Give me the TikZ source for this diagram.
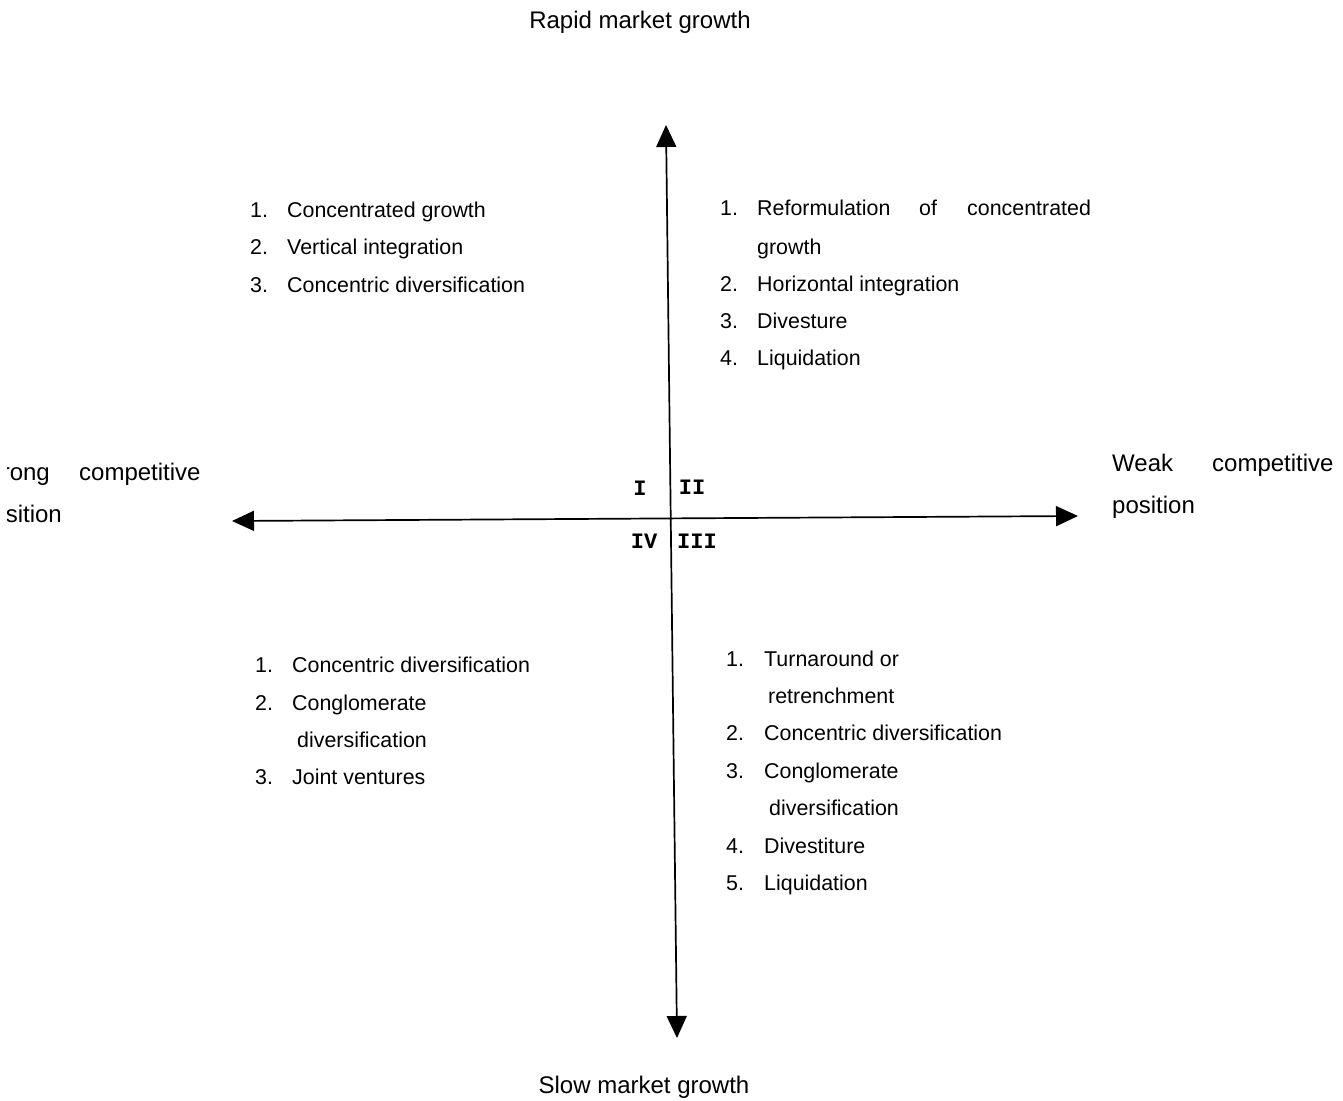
\documentclass[tikz,border=0pt]{standalone}
\usepackage{fontspec}
\setmainfont{Liberation Sans}
\newfontfamily\quadfont{Liberation Mono}
\usetikzlibrary{arrows.meta}
\tikzset{
  entry/.style={anchor=west,inner sep=0pt,text height=19pt,text depth=4pt},
  axislabel/.style={inner sep=0pt,text height=21pt,text depth=5pt,font=\fontsize{24}{28}\selectfont},
  quadlabel/.style={inner sep=0pt,font=\quadfont\bfseries\fontsize{22}{26}\selectfont},
  axis/.style={line width=1.7pt,{Triangle[length=22pt,width=20pt]}-{Triangle[length=22pt,width=20pt]}}
}
\begin{document}
\begin{tikzpicture}[x=1pt,y=-1pt,font=\fontsize{21.4}{25}\selectfont]
  \useasboundingbox (0,0) rectangle (1343,1100);
  \clip (7,0) rectangle (1343,1100);
  % axes
  \coordinate (top) at (666,125);
  \coordinate (bottom) at (677,1038);
  \coordinate (west) at (232,521);
  \coordinate (east) at (1078,516);
  \draw[axis] (bottom) -- (top);
  \draw[axis] (west) -- (east);
  % axis labels
  \node[axislabel] (rapid) at (640,20) {Rapid market growth};
  \node[axislabel] (slow) at (644,1085) {Slow market growth};
  \node[axislabel,anchor=east] (strong) at (50,472) {Strong};
  \node[axislabel,anchor=west] (strongc) at (79,472) {competitive};
  \node[axislabel,anchor=east] (strongp) at (62,514) {position};
  \node[axislabel,anchor=west] (weak) at (1112,463) {Weak};
  \node[axislabel,anchor=west] (weakc) at (1212,463) {competitive};
  \node[axislabel,anchor=west] (weakp) at (1112,505) {position};
  % quadrant numbers
  \node[quadlabel] (qI) at (640,488) {I};
  \node[quadlabel] (qII) at (692,487) {II};
  \node[quadlabel] (qIII) at (697,541) {III};
  \node[quadlabel] (qIV) at (644,541) {IV};
  % quadrant I
  \foreach \y/\num/\txt [count=\i] in {210/1./Concentrated growth,
      247/2./Vertical integration, 285/3./Concentric diversification}{
    \node[entry] (I-num-\i) at (250,\y) {\num};
    \node[entry] (I-txt-\i) at (287,\y) {\txt};
  }
  % quadrant II
  \node[entry] (II-num-1) at (720,208) {1.};
  \node[entry] (II-txt-1a) at (757,208) {Reformulation};
  \node[entry] (II-txt-1b) at (919,208) {of};
  \node[entry] (II-txt-1c) at (967,208) {concentrated};
  \node[entry] (II-txt-1d) at (757,247) {growth};
  \foreach \y/\num/\txt [count=\i from 2] in {284/2./Horizontal integration,
      321/3./Divesture, 358/4./Liquidation}{
    \node[entry] (II-num-\i) at (720,\y) {\num};
    \node[entry] (II-txt-\i) at (757,\y) {\txt};
  }
  % quadrant IV
  \foreach \y/\num/\txt [count=\i] in {665/1./Concentric diversification,
      703/2./Conglomerate, 777/3./Joint ventures}{
    \node[entry] (IV-num-\i) at (255,\y) {\num};
    \node[entry] (IV-txt-\i) at (292,\y) {\txt};
  }
  \node[entry] (IV-txt-2b) at (297,740) {diversification};
  % quadrant III
  \foreach \y/\num/\txt [count=\i] in {659/1./Turnaround or,
      733/2./Concentric diversification, 771/3./Conglomerate,
      846/4./Divestiture, 883/5./Liquidation}{
    \node[entry] (III-num-\i) at (726,\y) {\num};
    \node[entry] (III-txt-\i) at (764,\y) {\txt};
  }
  \node[entry] (III-txt-1b) at (768,696) {retrenchment};
  \node[entry] (III-txt-3b) at (769,808) {diversification};
\end{tikzpicture}
\end{document}
